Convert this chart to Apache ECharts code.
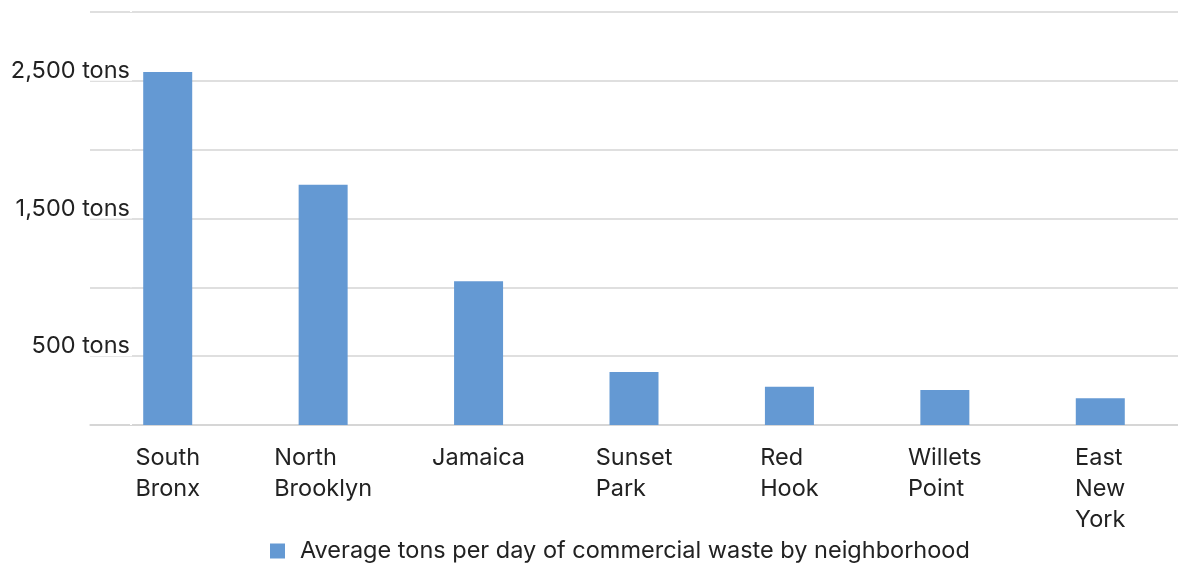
<!DOCTYPE html>
<html>
<head>
<meta charset="utf-8">
<script src="https://cdn.jsdelivr.net/npm/echarts@6/dist/echarts.min.js"></script>
<style>
  html, body { margin: 0; padding: 0; background: #fff; }
  #chart { width: 1178px; height: 563px; }
</style>
</head>
<body>
<div id="chart"></div>
<script>
// neighborhoods, split into the lines shown under each bar
const categories = [
  ['South', 'Bronx'],
  ['North', 'Brooklyn'],
  ['Jamaica'],
  ['Sunset', 'Park'],
  ['Red', 'Hook'],
  ['Willets', 'Point'],
  ['East', 'New', 'York']
]
const tonsPerDay = [2565, 1745, 1045, 385, 278, 255, 195]
const yTickValues = [500, 1500, 2500]
const yTickLabels = ['500 tons', '1,500 tons', '2,500 tons']
const seriesName = 'Average tons per day of commercial waste by neighborhood'

const FONT = 'Inter'
const SIZE = 23.5
const chart = echarts.init(document.getElementById('chart'))

chart.setOption({
  animation: false,
  grid: { left: 90, right: 0, top: 12, bottom: 138 },
  legend: {
    left: 265,
    top: 534,
    itemWidth: 15,
    itemHeight: 15,
    itemGap: 10,
    icon: 'rect',
    textStyle: { fontFamily: FONT, fontSize: SIZE, color: '#222', padding: [0, 0, 0, 10] },
    data: [seriesName]
  },
  xAxis: {
    type: 'category',
    data: categories.map(c => c.join('\n')),
    axisLine: { lineStyle: { color: '#d4d4d4', width: 1.5 } },
    axisTick: { show: false },
    axisLabel: {
      interval: 0,
      margin: 17,
      color: '#222',
      fontFamily: FONT,
      fontSize: SIZE,
      lineHeight: 31,
      // left-aligned lines inside a block centred under the bar
      formatter: v => v.split('\n').map(l => '{l|' + l + '}').join('\n'),
      rich: { l: { align: 'left', fontFamily: FONT, fontSize: SIZE, lineHeight: 31, color: '#222' } }
    }
  },
  yAxis: {
    type: 'value',
    min: 0,
    max: 3000,
    interval: 500,
    axisLine: { show: false },
    axisTick: { show: false },
    splitLine: { lineStyle: { color: '#d4d4d4', width: 1.5 } },
    axisLabel: {
      margin: -42,
      verticalAlign: 'bottom',
      color: '#222',
      fontFamily: FONT,
      fontSize: SIZE,
      lineHeight: 14,
      backgroundColor: '#fff',
      padding: [0, 2, 3, 0],
      formatter: v => {
        const i = yTickValues.indexOf(v)
        return i >= 0 ? yTickLabels[i] : ''
      }
    }
  },
  series: [{
    name: seriesName,
    type: 'bar',
    barWidth: 49,
    itemStyle: { color: '#6499d3' },
    data: tonsPerDay
  }]
})
</script>
</body>
</html>
